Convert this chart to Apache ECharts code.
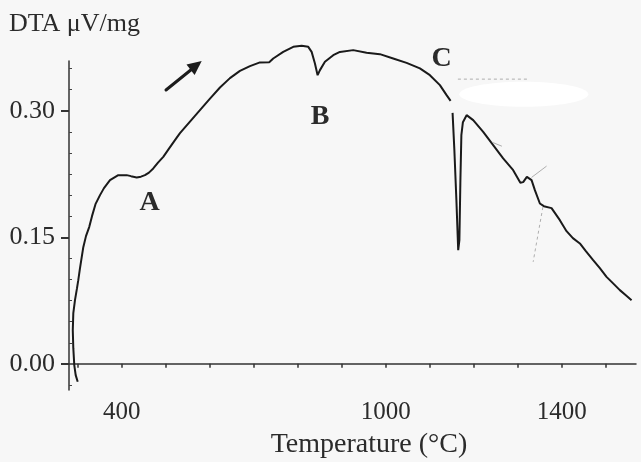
<!DOCTYPE html>
<html>
<head>
<meta charset="utf-8">
<script src="https://cdn.jsdelivr.net/npm/echarts@6/dist/echarts.min.js"></script>
<style>
  html, body { margin: 0; padding: 0; background: #f7f7f7; }
  #chart { width: 641px; height: 462px; }
</style>
</head>
<body>
<div id="chart"></div>
<script>
// DTA heating curve: temperature (°C) and signal (µV/mg); null marks a break in the trace
const temperature = [
  299.8, 295.2, 292.0, 289.8, 288.6, 289.8, 293.6, 298.2, 301.1, 305.0,
  312.5, 318.6, 326.1, 332.3, 340.2, 350.5, 359.5, 373.2, 392.0, 411.1,
  420.9, 433.9, 443.6, 452.7, 461.8, 471.6, 482.3, 494.3, 507.3, 520.9,
  532.3, 555.0, 577.7, 600.5, 623.2, 645.9, 668.6, 691.4, 714.1, 735.2,
  744.3, 767.0, 789.8, 808.9, 823.9, 831.6, 839.1, 845.2, 850.5, 861.8,
  880.7, 895.9, 926.1, 956.6, 986.8, 1017.0, 1047.5, 1077.7, 1100.5, 1123.2,
  1138.4, 1147.5, 1150.0,
  1152.0, 1156.1, 1160.7, 1164.8, 1167.5, 1169.8, 1172.0, 1175.5, 1183.9, 1198.9,
  1221.6, 1244.3, 1267.0, 1289.8, 1306.1, 1312.5, 1320.9, 1331.6, 1339.1, 1350.5,
  1359.5, 1377.0, 1395.9, 1411.1, 1425.5, 1441.4, 1455.0, 1471.6, 1486.8, 1502.0,
  1516.4, 1532.3, 1545.9, 1558.9
];
const dta = [
  -0.0213, -0.0134, -0.0015, 0.0186, 0.0399, 0.0601, 0.0755, 0.0897, 0.0992, 0.1134,
  0.1383, 0.1514, 0.1624, 0.1751, 0.1893, 0.2000, 0.2083, 0.2178, 0.2237, 0.2237,
  0.2225, 0.2210, 0.2219, 0.2237, 0.2267, 0.2316, 0.2385, 0.2454, 0.2551, 0.2652,
  0.2735, 0.2871, 0.3007, 0.3144, 0.3276, 0.3387, 0.3473, 0.3529, 0.3573, 0.3576,
  0.3620, 0.3698, 0.3758, 0.3770, 0.3758, 0.3698, 0.3561, 0.3422, 0.3482, 0.3580,
  0.3659, 0.3698, 0.3719, 0.3687, 0.3671, 0.3620, 0.3568, 0.3502, 0.3422, 0.3304,
  0.3185, 0.3118, null,
  0.2975, 0.2533, 0.1941, 0.1348, 0.1466, 0.2178, 0.2711, 0.2865, 0.2948, 0.2889,
  0.2750, 0.2593, 0.2435, 0.2296, 0.2148, 0.2154, 0.2217, 0.2178, 0.2059, 0.1901,
  0.1869, 0.1846, 0.1703, 0.1573, 0.1490, 0.1427, 0.1336, 0.1229, 0.1134, 0.1031,
  0.0957, 0.0874, 0.0814, 0.0755
];

// faint construction lines drawn on the thermogram (temperature, signal)
const guideSolidT = [1331.6, 1365.7, null, 1241.4, 1264.1];
const guideSolidV = [0.2210, 0.2344, null, 0.2628, 0.2580];
const guideDashT = [1357.3, 1335.2, null, 1164.1, 1323.2];
const guideDashV = [0.1858, 0.1209, null, 0.3375, 0.3375];

// axis ticks and labels
const xTicks = [300, 400, 500, 600, 700, 800, 900, 1000, 1100, 1200, 1300, 1400, 1500];
const xLabels = [400, 1000, 1400];
const yLabels = [0.00, 0.15, 0.30];
const yMinorTicks = [-0.025, 0.025, 0.05, 0.075, 0.1, 0.125, 0.175, 0.2, 0.225, 0.25, 0.275, 0.325, 0.35];

// peak markers
const peakNames = ['A', 'B', 'C'];

function zipPairs(xs, ys) {
  return xs.map((x, i) => (ys[i] === null || x === null) ? [x === null ? '-' : x, '-'] : [x, ys[i]]);
}

const SERIF = '"Liberation Serif", "DejaVu Serif", serif';
const INK = '#2b2b2b';

const chart = echarts.init(document.getElementById('chart'), null, { renderer: 'canvas' });

const yCommon = { type: 'value', min: -0.031, max: 0.359, position: 'left', splitLine: { show: false } };

chart.setOption({
  backgroundColor: '#f7f7f7',
  animation: false,
  grid: { left: 69, right: 5, top: 61, bottom: 72, containLabel: false },
  xAxis: {
    type: 'value', min: 280, max: 1569,
    axisLine: { lineStyle: { color: '#333', width: 1.5 } },
    axisTick: { customValues: xTicks, length: 4, lineStyle: { color: '#333', width: 1.5 } },
    axisLabel: {
      customValues: xLabels, margin: 10,
      formatter: v => String(v),
      fontFamily: SERIF, fontSize: 25, color: INK
    },
    splitLine: { show: false }
  },
  yAxis: [
    Object.assign({}, yCommon, {
      axisLine: { show: true, lineStyle: { color: '#333', width: 1.5 } },
      axisTick: { customValues: yLabels, length: 8, lineStyle: { color: '#333', width: 2 } },
      axisLabel: {
        customValues: yLabels, margin: 14,
        formatter: v => v.toFixed(2),
        fontFamily: SERIF, fontSize: 26, color: INK
      }
    }),
    Object.assign({}, yCommon, {
      axisLine: { show: false },
      axisTick: { customValues: yMinorTicks, inside: true, length: 3, lineStyle: { color: '#444', width: 1 } },
      axisLabel: { show: false }
    })
  ],
  series: [
    {
      name: 'DTA', type: 'line', xAxisIndex: 0, yAxisIndex: 0,
      data: zipPairs(temperature, dta),
      symbol: 'none', clip: false, connectNulls: false,
      lineStyle: { color: '#1a1a1a', width: 2 }
    },
    {
      name: 'guide', type: 'line', xAxisIndex: 0, yAxisIndex: 0,
      data: zipPairs(guideSolidT, guideSolidV),
      symbol: 'none', clip: false, silent: true,
      lineStyle: { color: '#9a9a9a', width: 0.8 }
    },
    {
      name: 'guide-dashed', type: 'line', xAxisIndex: 0, yAxisIndex: 0,
      data: zipPairs(guideDashT, guideDashV),
      symbol: 'none', clip: false, silent: true,
      lineStyle: { color: '#9a9a9a', width: 0.8, type: [3, 3] }
    }
  ],
  graphic: [
    {
      type: 'text', left: 9, top: 11,
      style: { text: 'DTA \u03bcV/mg', font: '26px ' + SERIF, fill: INK }
    },
    {
      type: 'text', x: 369, y: 431,
      style: { text: 'Temperature (\u00b0C)', font: '28px ' + SERIF, fill: INK, textAlign: 'center', textVerticalAlign: 'top' }
    },
    {
      type: 'text', x: 149.5, y: 203,
      style: { text: peakNames[0], font: 'bold 28px ' + SERIF, fill: INK, textAlign: 'center', textVerticalAlign: 'middle' }
    },
    {
      type: 'text', x: 320, y: 117,
      style: { text: peakNames[1], font: 'bold 28px ' + SERIF, fill: INK, textAlign: 'center', textVerticalAlign: 'middle' }
    },
    {
      type: 'text', x: 441.7, y: 59,
      style: { text: peakNames[2], font: 'bold 28px ' + SERIF, fill: INK, textAlign: 'center', textVerticalAlign: 'middle' }
    },
    // heating direction arrow
    {
      type: 'line', shape: { x1: 166, y1: 90, x2: 192, y2: 69 },
      style: { stroke: '#1c1c1c', lineWidth: 3, lineCap: 'round' }
    },
    {
      type: 'polygon', shape: { points: [[201.7, 61], [194.6, 75], [186.5, 64.6]] },
      style: { fill: '#1c1c1c' }
    },
    // blank patch over the trace label area
    {
      type: 'ellipse', shape: { cx: 523.8, cy: 94.2, rx: 64.5, ry: 12.5 },
      style: { fill: '#ffffff' }, z: 10
    }
  ]
});
</script>
</body>
</html>
